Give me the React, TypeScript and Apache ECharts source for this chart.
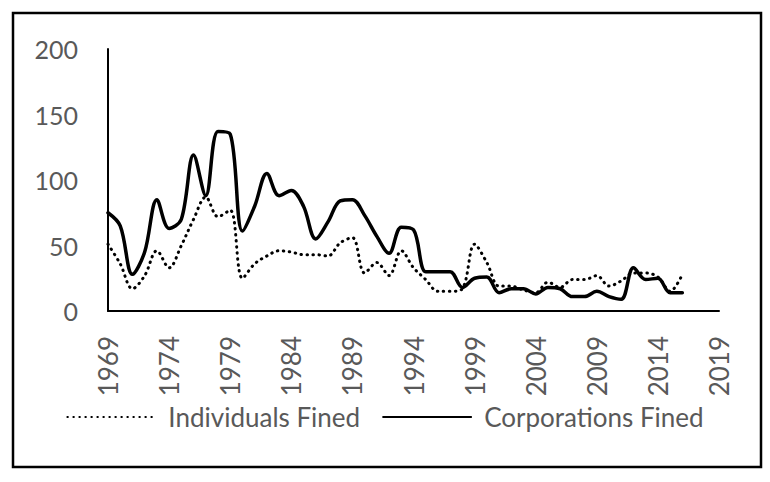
import React, { useEffect, useRef } from "react";
import * as echarts from "echarts";

const years: string[] = [];
for (let y = 1969; y <= 2019; y++) years.push(String(y));

const individualsFined = [
  51, 36, 17, 27, 46, 33, 50, 70, 87, 72, 77, 25, 36, 42, 46, 45, 43, 43, 42, 52,
  56, 29, 37, 27, 46, 33, 24, 15, 15, 17, 51, 37, 19, 19, 16, 14, 22, 18, 24, 24,
  27, 19, 23, 29, 29, 26, 15, 28,
];
const corporationsFined = [
  75, 65, 28, 45, 85, 63, 70, 119, 88, 137, 135, 61, 80, 105, 88, 92, 80, 55, 68, 84,
  85, 73, 57, 44, 64, 62, 30, 30, 30, 18, 25, 26, 14, 17, 17, 13, 18, 17, 11, 11,
  15, 11, 9, 33, 24, 25, 14, 14,
];
const yTicks = { min: 0, max: 200, interval: 50 };

const FONT = "Lato, 'Open Sans', sans-serif";
const GREY = "#595959";

export default function App() {
  const ref = useRef<HTMLDivElement>(null);
  useEffect(() => {
    if (!ref.current) return;
    const chart = echarts.init(ref.current, undefined, { renderer: "svg" });
    chart.setOption({
      animation: false,
      backgroundColor: "#ffffff",
      textStyle: { fontFamily: FONT },
      graphic: [
        {
          type: "rect",
          shape: { x: 13, y: 13, width: 748, height: 454 },
          style: { fill: "none", stroke: "#000", lineWidth: 2.5 },
          silent: true,
        },
      ],
      grid: { left: 108, right: 51, top: 49, bottom: 171, containLabel: false },
      legend: {
        top: 399,
        left: "center",
        itemWidth: 88,
        itemHeight: 16,
        itemGap: 22,
        itemStyle: { opacity: 0 },
        textStyle: { fontSize: 26, color: GREY, fontFamily: FONT, padding: [0, 0, 0, 8] },
        data: ["Individuals Fined", "Corporations Fined"],
      },
      xAxis: {
        type: "category",
        data: years,
        boundaryGap: false,
        axisLine: { show: true, lineStyle: { color: "#000", width: 2 } },
        axisTick: { show: false },
        splitLine: { show: false },
        axisLabel: {
          interval: 4,
          rotate: 90,
          margin: 25,
          fontSize: 26,
          color: GREY,
          fontFamily: FONT,
        },
      },
      yAxis: {
        type: "value",
        min: yTicks.min,
        max: yTicks.max,
        interval: yTicks.interval,
        axisLine: { show: true, lineStyle: { color: "#000", width: 2 } },
        axisTick: { show: false },
        splitLine: { show: false },
        axisLabel: { fontSize: 25, color: GREY, margin: 30, fontFamily: FONT },
      },
      series: [
        {
          name: "Individuals Fined",
          type: "line",
          data: individualsFined,
          smooth: 0.35,
          symbol: "none",
          showSymbol: false,
          lineStyle: { color: "#000", width: 3, type: [0.5, 5.5], cap: "round" },
          itemStyle: { color: "#000" },
        },
        {
          name: "Corporations Fined",
          type: "line",
          data: corporationsFined,
          smooth: 0.35,
          symbol: "none",
          showSymbol: false,
          lineStyle: { color: "#000", width: 3.5, cap: "round" },
          itemStyle: { color: "#000" },
        },
      ],
    });
    return () => chart.dispose();
  }, []);
  return (
    <div
      ref={ref}
      style={{ position: "fixed", left: 0, top: 0, width: 770, height: 482, background: "#fff" }}
    />
  );
}
